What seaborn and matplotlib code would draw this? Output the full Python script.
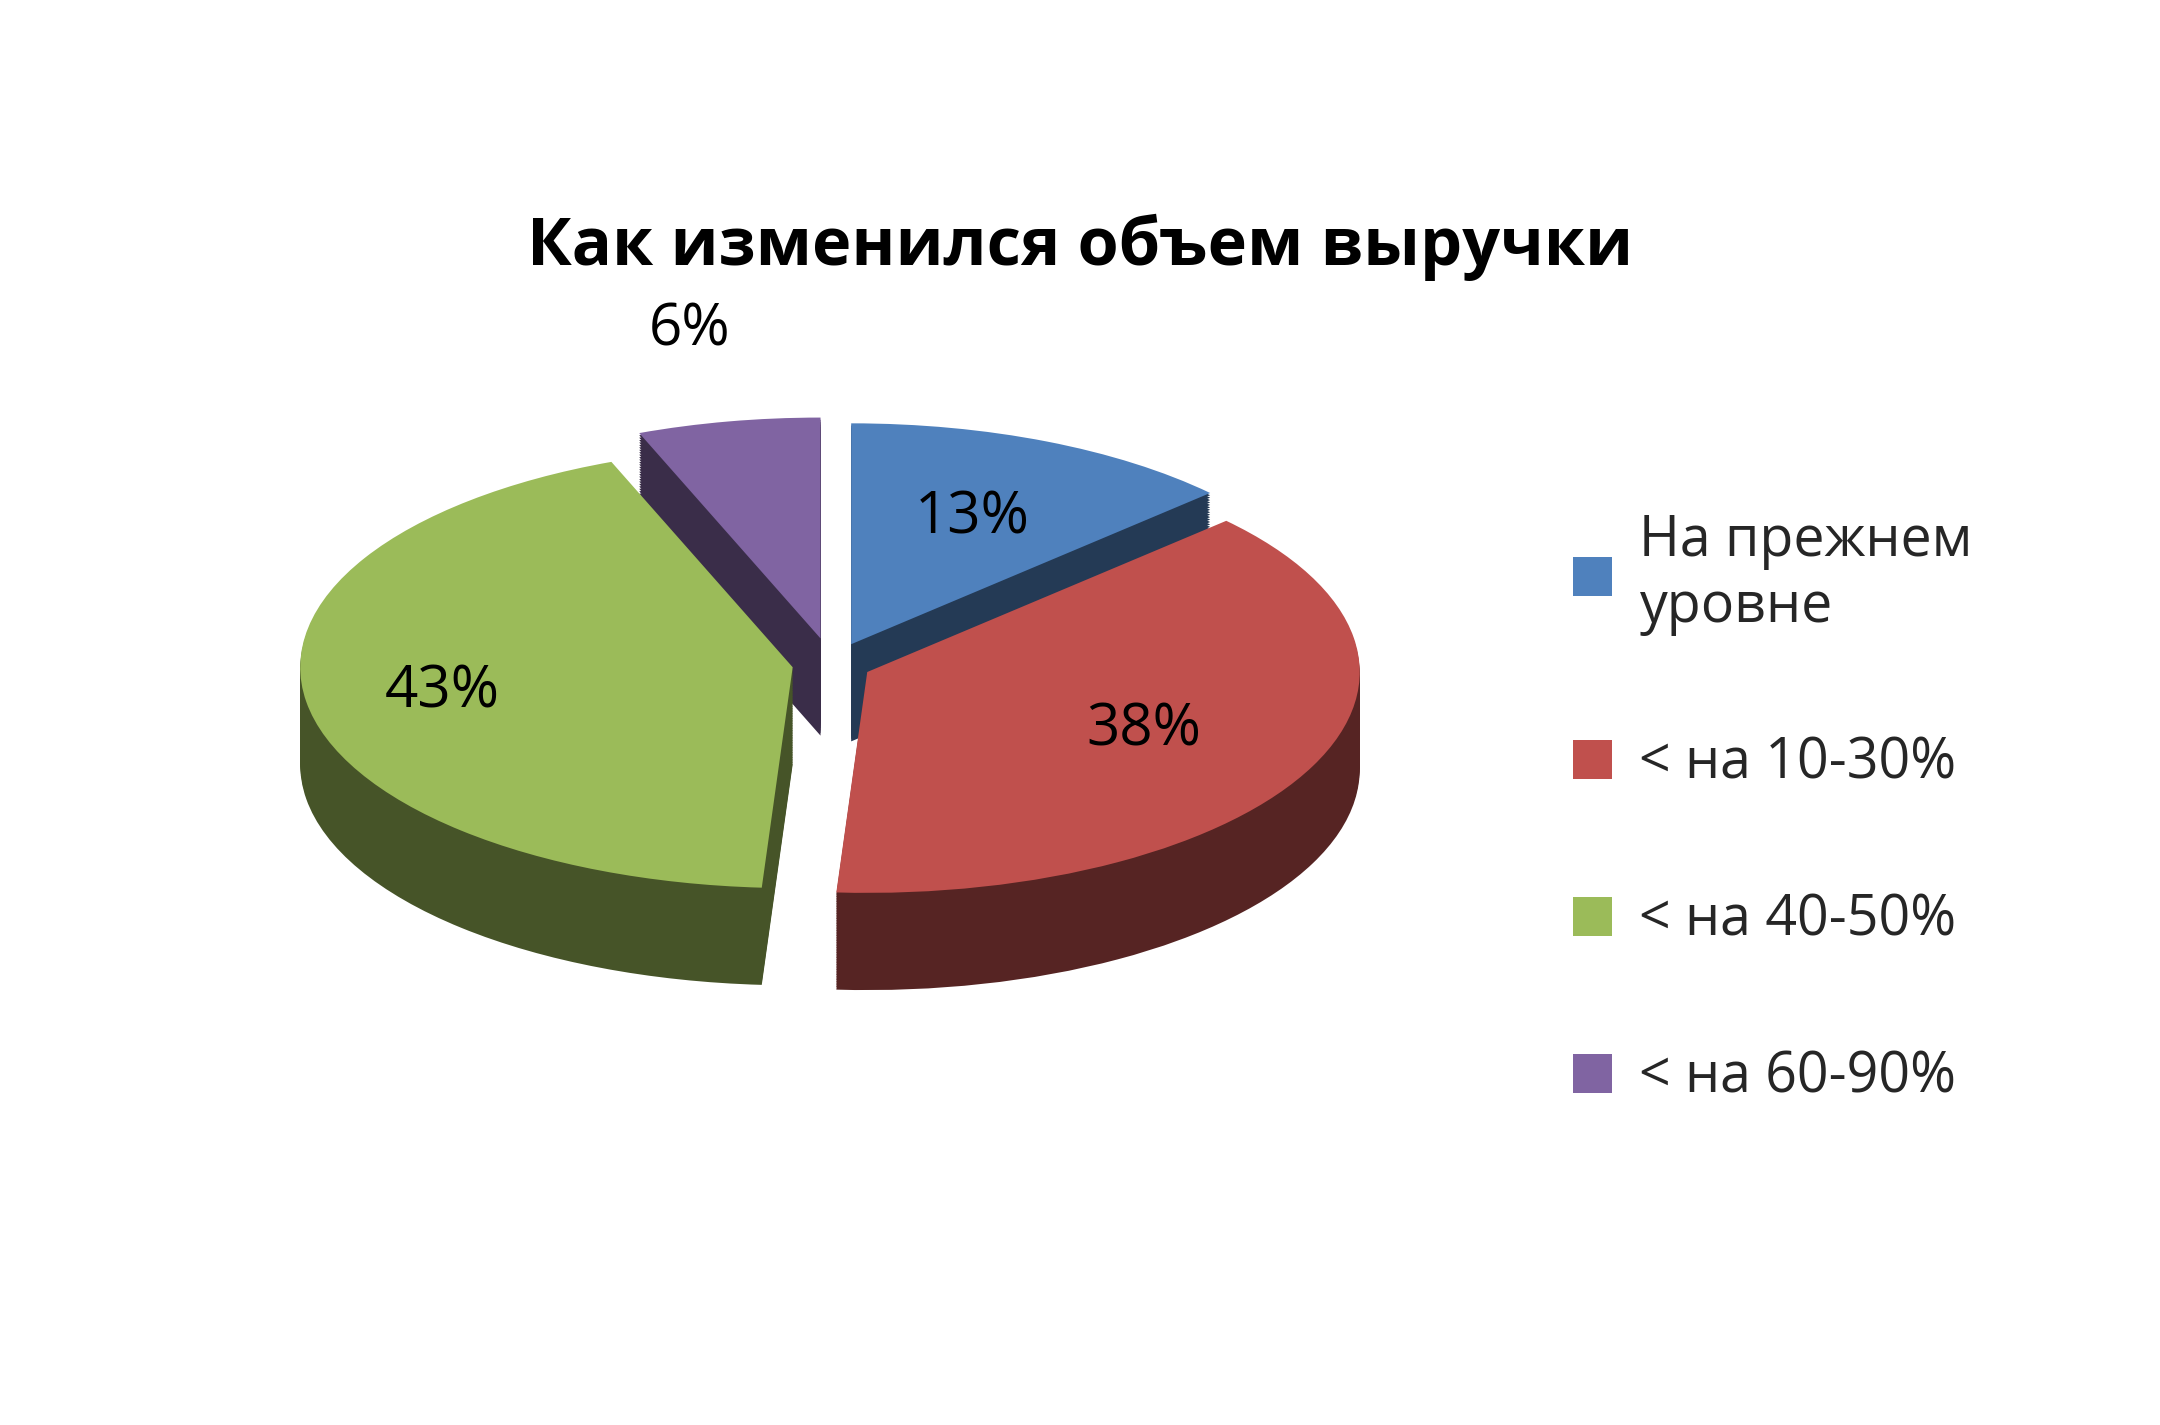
import matplotlib
matplotlib.use("Agg")
import matplotlib.pyplot as plt
import seaborn as sns
import numpy as np
from matplotlib.colors import to_rgb

categories = ["На прежнем\nуровне", "< на 10-30%", "< на 40-50%", "< на 60-90%"]
values = [13, 38, 43, 6]
colors = ["#4F81BD", "#C0504D", "#9BBB59", "#8064A2"]
explode = [0.1, 0.08, 0.08, 0.12]
title = "Как изменился объем выручки"

sns.set_theme(style="white")
plt.rcParams['font.family'] = ['Open Sans', 'DejaVu Sans']

def darker(c, f):
    r, g, b = to_rgb(c)
    return (r * f, g * f, b * f)

fig = plt.figure(figsize=(21.6, 14.25), dpi=100)
ax = fig.add_axes([0.10, 0.14, 0.57, 0.62])
ax.axis("off")

depth = 0.44
side_cols = [darker(c, 0.45) for c in colors]
for d in np.linspace(depth, 0.01, 40):
    ax.pie(values, colors=side_cols, explode=explode, startangle=90,
           counterclock=False, center=(0, -d), wedgeprops=dict(linewidth=0))
wedges, _ = ax.pie(values, colors=colors, explode=explode, startangle=90,
                   counterclock=False, center=(0, 0), wedgeprops=dict(linewidth=0))

dists = [0.62, 0.62, 0.72, 1.42]
for w, v, dist in zip(wedges, values, dists):
    ang = np.deg2rad((w.theta1 + w.theta2) / 2)
    cx, cy = w.center
    ax.text(cx + dist * np.cos(ang), cy + dist * np.sin(ang), f"{v}%",
            ha="center", va="center", fontsize=42, color="black")

ax.set_aspect("auto")
ax.set_xlim(-1.25, 1.25)
ax.set_ylim(-2.54, 1.46)

fig.suptitle(title, y=0.85, fontsize=48, fontweight="bold", color="black")
fig.legend(wedges, categories, loc="upper left", bbox_to_anchor=(0.705, 0.675),
           frameon=False, fontsize=40, labelspacing=1.8, handlelength=0.7,
           handleheight=0.7, handletextpad=0.5)
fig.savefig("out.png", dpi=100, facecolor="white")
